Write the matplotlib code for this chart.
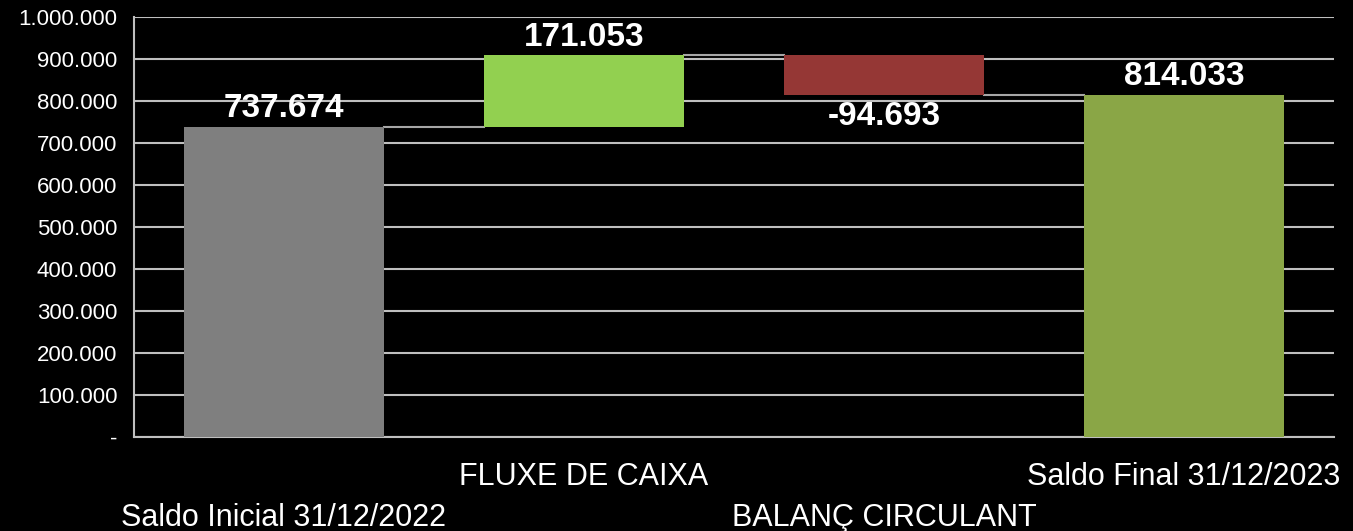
import matplotlib.pyplot as plt
from matplotlib.ticker import FuncFormatter

# waterfall data
categories = ["Saldo Inicial 31/12/2022", "FLUXE DE CAIXA", "BALANÇ CIRCULANT", "Saldo Final 31/12/2023"]
values = [737674, 171053, -94693, 814033]
kinds = ["total", "delta", "delta", "total"]
colors = ["#7f7f7f", "#92d050", "#953735", "#8aa646"]
yticks = [0, 100000, 200000, 300000, 400000, 500000, 600000, 700000, 800000, 900000, 1000000]

plt.rcParams['font.family'] = ['Liberation Sans', 'DejaVu Sans']


def fmt(v):
    return f"{v:,}".replace(",", ".")


fig = plt.figure(figsize=(13.53, 5.31), dpi=100, facecolor="black")
ax = fig.add_axes([0.099, 0.177, 0.887, 0.791])
ax.set_facecolor("black")

# bottoms / tops of the floating bars
bottoms, tops = [], []
running = 0
for v, k in zip(values, kinds):
    if k == "total":
        bottoms.append(0)
        running = v
        tops.append(v)
    else:
        lo, hi = sorted([running, running + v])
        bottoms.append(lo)
        running += v
        tops.append(hi)
heights = [t - b for t, b in zip(tops, bottoms)]

xs = list(range(len(categories)))
width = 0.667
ax.bar(xs, heights, bottom=bottoms, width=width, color=colors, zorder=3)

# connectors between bars at running totals
running = 0
levels = []
for v, k in zip(values, kinds):
    running = v if k == "total" else running + v
    levels.append(running)
for i in range(len(xs) - 1):
    ax.plot([xs[i] + width / 2, xs[i + 1] - width / 2], [levels[i], levels[i]],
            color="#a6a6a6", lw=1.5, zorder=2)

# value labels
for i, (v, k) in enumerate(zip(values, kinds)):
    if v >= 0:
        ax.annotate(fmt(v), (xs[i], tops[i]), xytext=(0, 2), textcoords="offset points",
                    ha="center", va="bottom", color="white", fontsize=24, fontweight="bold")
    else:
        ax.annotate(fmt(v), (xs[i], bottoms[i]), xytext=(0, -4), textcoords="offset points",
                    ha="center", va="top", color="white", fontsize=24, fontweight="bold")

ax.set_xlim(-0.5, len(categories) - 0.5)
ax.set_ylim(0, 1000000)
ax.set_yticks(yticks)
ax.yaxis.set_major_formatter(FuncFormatter(lambda y, p: "-" if y == 0 else fmt(int(y))))
ax.tick_params(axis="y", colors="white", labelsize=16, length=0, pad=12)
ax.set_xticks([])
ax.grid(axis="y", color="#bfbfbf", lw=1.5, zorder=0)
for s in ["top", "right"]:
    ax.spines[s].set_visible(False)
ax.spines["left"].set_color("#bfbfbf")
ax.spines["left"].set_linewidth(1.5)
ax.spines["bottom"].set_color("#bfbfbf")
ax.spines["bottom"].set_linewidth(1.5)

# staggered category labels (pixel offsets below the axis)
for i, c in enumerate(categories):
    off = -40 if i % 2 else -81
    ax.annotate(c, (xs[i], 0), xycoords=("data", "axes fraction"), xytext=(0, off * 0.72),
                textcoords="offset points", ha="center", va="center", color="white", fontsize=22)

fig.savefig("out.png", facecolor="black")
